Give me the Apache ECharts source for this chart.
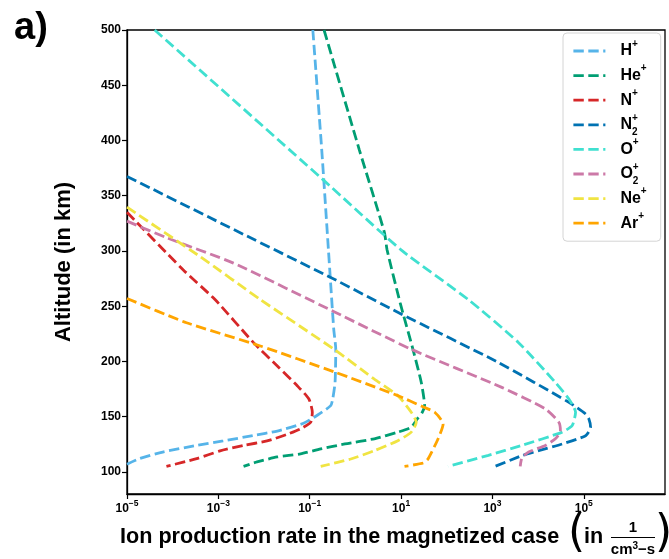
<!DOCTYPE html>
<html>
<head>
<meta charset="utf-8">
<script src="https://cdn.jsdelivr.net/npm/echarts@6/dist/echarts.min.js"></script>
<style>
  html, body { margin: 0; padding: 0; background: #fff; }
  #chart { width: 669px; height: 559px; }
</style>
</head>
<body>
<div id="chart"></div>
<script>
// Ion production rate profiles (cm^-3 s^-1) versus altitude (km)
const ions = ['H+', 'He+', 'N+', 'N2+', 'O+', 'O2+', 'Ne+', 'Ar+'];
const ionColors = ['#56B4E9', '#009E73', '#D62728', '#0072B2', '#40E0D0', '#CC79A7', '#F0E442', '#FFA500'];

const hRate  = [0.117, 0.183, 0.257, 0.336, 0.372, 0.359, 0.319, 0.288, 0.149, 0.073, 0.0196, 0.0058, 0.00127, 3.4e-4, 6.05e-5, 1.88e-5, 1e-5];
const hAlt   = [500, 392, 301, 229, 211, 181, 166, 160, 151.5, 144, 137, 133, 128, 124, 118, 112, 107];

const heRate = [0.206, 1.21, 4.3, 4.94, 9.55, 18.2, 27.7, 32.7, 29.2, 22.6, 16.7, 8.5, 2.6, 0.587, 0.174, 0.063, 0.0193, 0.00702, 0.00356];
const heAlt  = [500, 392, 317, 301, 253, 211, 181, 160, 154, 148, 140.5, 136, 130, 125.3, 120.8, 116.3, 113.5, 109, 105];

const nRate  = [1e-5, 1.69e-4, 8.45e-4, 5.9e-3, 0.0193, 0.0533, 0.096, 0.114, 0.105, 0.063, 0.0321, 0.01164, 0.00356, 0.00109, 3.35e-4, 7.3e-5];
const nAlt   = [335, 283, 256, 217, 196, 178, 166, 154, 145, 139, 134, 128, 124, 119, 112, 105];

const n2Rate = [1e-5, 3.56e-3, 0.288, 10, 1355, 47200, 1.1e5, 1.3e5, 1.41e5, 1.1e5, 33600, 1.03e4, 4420, 1140];
const n2Alt  = [367.5, 315, 276, 243, 199, 163, 152.4, 147.7, 140.3, 132.8, 125.3, 119.2, 114.7, 105];

const oRate  = [4.04e-5, 0.19, 10, 296, 3740, 23900, 47200, 66100, 55800, 33600, 4420, 817, 107];
const oAlt   = [500, 365, 301, 256, 217, 181, 166, 154, 142, 136, 124, 115, 105];

const o2Rate = [1e-5, 7.3e-5, 2.14e-3, 0.341, 16.7, 1600, 14400, 28400, 30800, 23900, 14400, 6210, 4420, 4060];
const o2Alt  = [327, 312, 289, 245, 211, 176.5, 157, 145, 137, 130, 124, 118, 112.6, 105];

const neRate = [1e-5, 3.95e-4, 8.3e-3, 0.341, 2.6, 8.5, 16.7, 21.5, 16.7, 8.5, 2.6, 0.796, 0.174];
const neAlt  = [339.6, 295, 256, 211, 184, 169, 154, 145, 136, 128.3, 119.2, 111.7, 105];

const arRate = [1e-5, 2.01e-4, 8.3e-3, 0.341, 8.5, 27.7, 54.5, 83.4, 64.7, 38.9, 30.7, 11.9];
const arAlt  = [257, 235, 214, 190.6, 169, 159.6, 154, 143.3, 130, 111.7, 108.1, 105];

const rateTicks = [1e-5, 1e-3, 1e-1, 1e1, 1e3, 1e5];
const altTicks  = [100, 150, 200, 250, 300, 350, 400, 450, 500];

const rates = [hRate, heRate, nRate, n2Rate, oRate, o2Rate, neRate, arRate];
const alts  = [hAlt, heAlt, nAlt, n2Alt, oAlt, o2Alt, neAlt, arAlt];

const legendLabels = {
  'H+':  '{m|H}{p|+}',
  'He+': '{m|He}{p|+}',
  'N+':  '{m|N}{p|+}',
  'N2+': '{m|N}{pz|+}{s|2}',
  'O+':  '{m|O}{p|+}',
  'O2+': '{m|O}{pz|+}{s|2}',
  'Ne+': '{m|Ne}{p|+}',
  'Ar+': '{m|Ar}{p|+}'
};

const FONT = '"Liberation Sans", Arial, sans-serif';
const LINE_W = 2.8;
const DASH = [10.4, 4.5];

const series = ions.map((name, i) => ({
  type: 'line',
  name: name,
  data: rates[i].map((r, j) => [r, alts[i][j]]),
  symbol: 'none',
  smooth: 0.2,
  clip: true,
  silent: true,
  lineStyle: { color: ionColors[i], width: LINE_W, type: DASH, cap: 'butt' },
  itemStyle: { color: ionColors[i] }
}));

const chart = echarts.init(document.getElementById('chart'), null, { renderer: 'canvas' });

chart.setOption({
  animation: false,
  backgroundColor: '#fff',
  grid: {
    left: 127, right: 4, top: 30, bottom: 65,
    show: true, borderColor: '#000', borderWidth: 1.3,
    outerBoundsMode: 'none'
  },
  xAxis: {
    type: 'log',
    logBase: 10,
    min: 1e-5,
    max: 6e6,
    axisLine: { show: true, lineStyle: { color: '#000', width: 1.3 } },
    axisTick: { show: true, length: 5, inside: false, customValues: rateTicks, lineStyle: { color: '#000', width: 1.2 } },
    minorTick: { show: false },
    splitLine: { show: false },
    axisLabel: {
      customValues: rateTicks,
      margin: 5,
      formatter: (v) => {
        const e = Math.round(Math.log10(v));
        return '{b|10}{e|' + (e < 0 ? '\u2212' : '') + Math.abs(e) + '}';
      },
      rich: {
        b: { fontFamily: FONT, fontSize: 12, fontWeight: 'bold', color: '#000', lineHeight: 16, verticalAlign: 'bottom' },
        e: { fontFamily: FONT, fontSize: 8.5, fontWeight: 'bold', color: '#000', lineHeight: 10, verticalAlign: 'top' }
      }
    }
  },
  yAxis: {
    type: 'value',
    min: 80,
    max: 500,
    axisLine: { show: true, lineStyle: { color: '#000', width: 1.3 } },
    axisTick: { show: true, length: 5, inside: false, customValues: altTicks, lineStyle: { color: '#000', width: 1.2 } },
    splitLine: { show: false },
    axisLabel: {
      customValues: altTicks,
      margin: 6,
      fontFamily: FONT, fontSize: 12, fontWeight: 'bold', color: '#000'
    }
  },
  legend: {
    data: ions,
    orient: 'vertical',
    left: 563,
    top: 33,
    padding: [6, 14, 6, 9],
    itemWidth: 32,
    itemHeight: 20,
    itemGap: 0.6,
    selectedMode: false,
    backgroundColor: 'rgba(255,255,255,0.85)',
    borderColor: '#d4d4d4',
    borderWidth: 1,
    borderRadius: 4,
    itemStyle: { color: 'rgba(0,0,0,0)', borderColor: 'rgba(0,0,0,0)', borderWidth: 0 },
    lineStyle: { width: LINE_W, type: DASH },
    formatter: (name) => legendLabels[name],
    textStyle: {
      padding: [0, 0, 0, 10],
      lineHeight: 24,
      rich: {
        m:  { fontFamily: FONT, fontSize: 16, fontWeight: 'bold', color: '#000', lineHeight: 24, verticalAlign: 'middle' },
        p:  { fontFamily: FONT, fontSize: 10, fontWeight: 'bold', color: '#000', lineHeight: 14, verticalAlign: 'top' },
        pz: { fontFamily: FONT, fontSize: 10, fontWeight: 'bold', color: '#000', lineHeight: 14, verticalAlign: 'top', width: 0, align: 'left' },
        s:  { fontFamily: FONT, fontSize: 10, fontWeight: 'bold', color: '#000', lineHeight: 12, verticalAlign: 'bottom' }
      }
    }
  },
  graphic: [
    { type: 'text', left: 14, top: 10, style: { text: 'a)', font: 'bold 38px ' + FONT, fill: '#000' } },
    { type: 'text', x: 64, y: 262, rotation: Math.PI / 2,
      style: { text: 'Altitude (in km)', font: 'bold 22px ' + FONT, fill: '#000', align: 'center', verticalAlign: 'middle' } },
    { type: 'text', x: 120, y: 537,
      style: { text: 'Ion production rate in the magnetized case', font: 'bold 21.6px ' + FONT, fill: '#000', align: 'left', verticalAlign: 'middle' } },
    { type: 'text', x: 568, y: 535,
      style: { text: '(', font: 'normal 44px "DejaVu Sans", ' + FONT, fill: '#000', align: 'left', verticalAlign: 'middle' } },
    { type: 'text', x: 584, y: 537,
      style: { text: 'in', font: 'bold 21.6px ' + FONT, fill: '#000', align: 'left', verticalAlign: 'middle' } },
    { type: 'text', x: 633, y: 528,
      style: { text: '1', font: 'bold 15px ' + FONT, fill: '#000', align: 'center', verticalAlign: 'middle' } },
    { type: 'line', shape: { x1: 611, y1: 537.5, x2: 655, y2: 537.5 }, style: { stroke: '#000', lineWidth: 1.2 } },
    { type: 'text', x: 633, y: 549,
      style: { text: '{t|cm}{u|3}{t|\u2212s}', align: 'center', verticalAlign: 'middle',
        rich: {
          t: { font: 'bold 15px ' + FONT, fill: '#000', lineHeight: 16, verticalAlign: 'bottom' },
          u: { font: 'bold 10px ' + FONT, fill: '#000', lineHeight: 10, verticalAlign: 'top' }
        } } },
    { type: 'text', x: 655, y: 535,
      style: { text: ')', font: 'normal 44px "DejaVu Sans", ' + FONT, fill: '#000', align: 'left', verticalAlign: 'middle' } }
  ],
  series: series
});
</script>
</body>
</html>
